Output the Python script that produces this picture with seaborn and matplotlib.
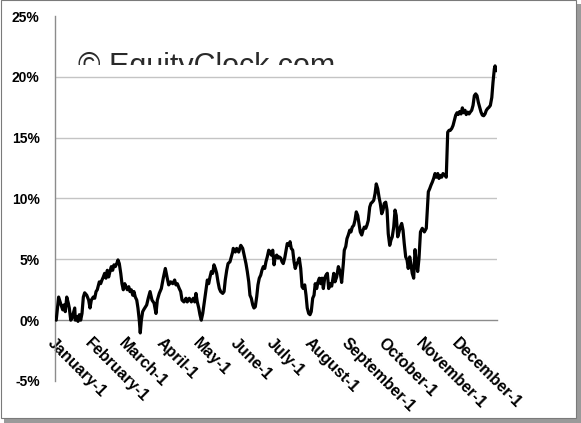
import matplotlib
matplotlib.use("Agg")
import matplotlib.pyplot as plt
import seaborn as sns
import pandas as pd
from matplotlib.patches import Rectangle
from matplotlib.ticker import FuncFormatter

# ---- data (day of year, cumulative seasonal return %) ----
day = [1, 3, 5, 6.4, 7.4, 8.5, 9.7, 11, 11.8, 13, 14, 15.1, 16.3, 16.8, 17.9, 19, 20.1, 21.2, 22.3, 23.4,
       24.5, 26.2, 27.8, 28.9, 30, 31.6, 32.8, 33.9, 34.9, 36.6, 37.7, 38.8, 39.9, 41, 42.1, 43.2, 44.3, 45.4,
       46.5, 47.6, 48.7, 49.8, 51, 52, 53.1, 54.3, 55.3, 56.4, 57.6, 58.6, 59.7, 60.9, 61.9, 63, 64.2, 65.2,
       66.3, 67.5, 68.5, 69.6, 70.4, 71.3, 72.4, 73.5, 75.7, 77.0, 78.5, 80.1, 81.8, 83.4, 84.5, 86.1, 87.8,
       89.4, 91.1, 92.7, 93.9, 95.5, 97.2, 98.8, 99.9, 101.0, 102.6, 103.8, 104.9, 106.5, 108.2, 109.2, 110.9,
       112.6, 114.2, 115.4, 116.4, 117.5, 118.7, 119.7, 120.8, 122.0, 123.0, 124.7, 125.8, 126.9, 128.0, 129.1,
       130.2, 131.3, 132.4, 133.5, 134.6, 135.7, 136.8, 138.5, 139.6, 140.6, 141.8, 142.9, 144.5, 145.6, 146.7,
       147.2, 148.9, 150.0, 151.7, 153.4, 155.0, 156.7, 157.7, 158.8, 160.0, 161.0, 162.1, 163.3, 164.3, 165.4,
       166.6, 167.6, 168.7, 169.9, 170.9, 172.0, 173.2, 174.2, 175.3, 176.5, 177.5, 178.6, 179.8, 180.9, 181.9,
       183.1, 184.2, 185.2, 186.4, 187.5, 188.5, 189.7, 190.8, 191.8, 193.0, 194.1, 195.1, 196.3, 197.4, 198.4,
       199.6, 200.7, 201.7, 202.9, 204.0, 205.0, 206.2, 207.3, 208.3, 209.5, 210.6, 211.6, 212.8, 213.9, 214.9,
       216.1, 217.2, 218.3, 219.4, 220.5, 221.6, 222.7, 223.8, 224.9, 226.0, 227.1, 228.5, 230.2, 231.2, 232.6,
       234.0, 235.4, 236.7, 238.1, 238.9, 240.1, 241.1, 242.2, 243.4, 244.4, 245.5, 246.7, 247.7, 248.8, 250.0,
       251.0, 252.1, 253.3, 254.4, 255.4, 256.6, 257.6, 258.7, 259.9, 260.9, 262.0, 263.2, 264.3, 265.3, 266.5,
       267.6, 268.6, 269.8, 270.9, 271.9, 273.1, 274.2, 275.2, 276.4, 277.5, 278.5, 279.7, 280.8, 281.8, 283.0,
       284.1, 285.1, 286.3, 287.4, 288.4, 289.6, 290.7, 291.7, 292.9, 294.0, 295.0, 296.2, 297.3, 298.3, 299.5,
       300.6, 301.8, 303.3, 305.0, 306.6, 307.8, 308.3, 309.4, 310.5, 311.6, 312.7, 313.8, 314.9, 316.1, 317.1,
       318.2, 319.3, 320.4, 322.1, 323.1, 323.7, 324.3, 325.4, 326.4, 327.6, 328.7, 329.7, 330.9, 332.0, 333.0,
       334.2, 335.3, 336.4, 337.5, 338.6, 339.6, 340.8, 341.9, 342.9, 344.1, 345.2, 346.3, 347.4, 348.5, 349.6,
       350.7, 351.8, 352.9, 354.0, 355.1, 356.2, 357.3, 358.4, 359.5, 360.7, 361.7, 362.8, 363.4, 364.4, 365.0]
pct = [0.0, 1.9, 1.25, 0.85, 1.25, 0.7, 1.9, 1.4, 1.0, 0.0, 0.15, 0.55, 1.0, 0.0, 0.3, -0.1, 0.45, 0.0, 0.55, 1.9,
       2.25, 2.05, 1.65, 1.0, 1.65, 1.9, 1.8, 2.35, 2.5, 3.15, 3.0, 3.3, 3.55, 3.85, 3.45, 4.1, 3.55, 4.0,
       4.4, 4.1, 4.55, 4.4, 4.65, 4.95, 4.65, 3.85, 3.0, 2.5, 3.0, 2.75, 2.5, 2.75, 2.35, 2.5, 2.05, 2.35,
       1.9, 1.65, 1.0, 0.0, -1.05, 0.0, 0.7, 0.9, 1.25, 1.8, 2.35, 1.65, 1.4, 0.55, 1.65, 2.2, 2.6,
       3.45, 4.25, 3.45, 2.9, 3.15, 3.0, 3.3, 2.9, 3.0, 2.6, 2.35, 1.65, 1.5, 1.8, 1.5, 1.8,
       1.5, 1.8, 1.5, 2.2, 1.5, 1.0, 0.45, 0.0, 0.55, 1.25, 2.5, 3.3, 3.0, 3.55, 4.0,
       3.85, 4.55, 4.25, 3.85, 3.15, 2.6, 2.35, 2.2, 2.35, 3.3, 4.1, 4.65, 4.8, 5.2, 5.6,
       5.9, 5.6, 5.9, 5.6, 6.15, 5.9, 5.1, 4.65, 4.0, 3.15, 2.05, 1.8, 1.25, 1.0, 1.1,
       1.95, 2.9, 3.45, 3.7, 4.1, 4.4, 4.25, 4.8, 5.2, 5.75, 5.6, 5.35, 5.75, 4.55, 5.2,
       5.35, 5.1, 5.2, 5.1, 4.8, 4.65, 5.1, 5.75, 6.3, 6.15, 6.45, 5.9, 5.75, 4.8, 4.25,
       4.65, 4.8, 5.1, 4.25, 2.75, 2.6, 2.9, 2.05, 1.0, 0.55, 0.45, 0.7, 1.8, 2.05, 3.0,
       2.6, 3.15, 3.45, 3.0, 3.45, 2.6, 3.45, 3.7, 3.85, 2.6, 3.0, 2.8, 3.85, 3.15, 3.55,
       4.4, 4.0, 3.1, 4.65, 5.75, 6.05, 6.7, 7.0, 7.4, 7.25, 7.65, 7.8, 8.2, 8.9, 8.6,
       7.95, 7.25, 7.0, 7.4, 7.65, 7.55, 7.8, 8.2, 9.3, 9.6, 9.7, 9.85, 10.4, 11.2, 10.8,
       10.1, 9.6, 8.75, 9.05, 9.6, 9.7, 9.05, 7.1, 6.15, 6.6, 6.85, 7.65, 9.05, 8.6, 6.85,
       7.25, 7.65, 7.95, 7.4, 6.3, 5.2, 4.95, 4.25, 5.2, 4.55, 3.85, 3.45, 5.8, 4.8, 4.0,
       5.1, 7.25, 7.55, 7.25, 7.55, 9.7, 10.55, 10.8, 11.1, 11.35, 11.65, 12.05, 11.75, 12.05, 11.65,
       11.9, 11.75, 12.05, 11.9, 11.75, 13.55, 15.45, 15.6, 15.6, 15.75, 16.0, 16.4, 16.85, 17.05, 16.9,
       17.15, 16.95, 17.45, 17.05, 17.25, 16.9, 17.1, 16.95, 17.1, 17.25, 17.65, 18.45, 18.6, 18.45, 17.9,
       17.5, 17.1, 16.85, 16.8, 16.95, 17.25, 17.4, 17.5, 17.65, 18.3, 19.55, 20.65, 20.9, 20.5, 20.65]

month_labels = ["January-1", "February-1", "March-1", "April-1", "May-1", "June-1",
                "July-1", "August-1", "September-1", "October-1", "November-1", "December-1"]
month_start_days = [0, 31, 59, 90, 120, 151, 181, 212, 243, 273, 304, 334]
year_end_day = 365
y_ticks = [-5, 0, 5, 10, 15, 20, 25]
watermark = "\u00a9 EquityClock.com"

# ---- figure ----
sns.set_style("white")
plt.rcParams["font.family"] = ["Liberation Sans", "DejaVu Sans"]

W, H = 581, 423
fig = plt.figure(figsize=(W / 100, H / 100), dpi=100)
fig.patch.set_facecolor("white")

# frame with drop shadow (behind everything)
fig.patches.append(Rectangle((4 / W, 0), (W - 4) / W, 5 / H, transform=fig.transFigure,
                             facecolor="#9a9a9a", edgecolor="none", zorder=-10))
fig.patches.append(Rectangle(((W - 5) / W, 0), 5 / W, (H - 4) / H, transform=fig.transFigure,
                             facecolor="#9a9a9a", edgecolor="none", zorder=-10))
fig.patches.append(Rectangle((0.5 / W, 5 / H), (W - 6) / W, (H - 5.5) / H, transform=fig.transFigure,
                             facecolor="white", edgecolor="#7a7a7a", linewidth=0.8, zorder=-9))

ax = fig.add_axes([55 / W, 1 - 381 / H, (497 - 55) / W, (381 - 16) / H])
ax.set_facecolor("none")
ax.set_zorder(1)

df = pd.DataFrame({"day": day, "pct": pct})
sns.lineplot(data=df, x="day", y="pct", ax=ax, color="black", linewidth=2.3,
             estimator=None, sort=False, legend=False, zorder=3)

ax.set_xlim(0, year_end_day)
ax.set_ylim(min(y_ticks), max(y_ticks))
ax.set_xlabel("")
ax.set_ylabel("")

grey = "#8C8C8C"
ax.set_yticks(y_ticks)
ax.yaxis.set_major_formatter(FuncFormatter(lambda v, p: f"{v:.0f}%"))
ax.yaxis.grid(True, color="#C4C4C4", linewidth=1.0)
ax.set_axisbelow(True)
glines = ax.get_ygridlines()
glines[0].set_visible(False)
glines[-1].set_visible(False)
glines[1].set_visible(False)

ax.set_xticks(month_start_days + [year_end_day])
ax.set_xticklabels(month_labels + [""])

for s in ["top", "right"]:
    ax.spines[s].set_visible(False)
ax.spines["left"].set_color(grey)
ax.spines["bottom"].set_color(grey)
ax.spines["bottom"].set_position(("data", 0))
ax.spines["left"].set_linewidth(1.0)
ax.spines["bottom"].set_linewidth(1.0)

ax.tick_params(axis="y", direction="out", length=5, width=1, color=grey, pad=6,
               labelsize=10, labelcolor="black")
ax.tick_params(axis="x", direction="out", length=5, width=1, color=grey, pad=6,
               labelsize=11.5, labelcolor="black")
for lbl in ax.get_yticklabels():
    lbl.set_fontweight("bold")
for lbl in ax.get_xticklabels():
    lbl.set_fontweight("bold")
    lbl.set_rotation(-45)
    lbl.set_ha("left")
    lbl.set_va("top")
    lbl.set_rotation_mode("anchor")

# ---- watermark (cut off at the bottom) ----
t = fig.text(78 / W, 1 - 75 / H, watermark, fontsize=22, color="#2a2a2a",
             va="baseline", ha="left", zorder=5)
clip = Rectangle((0, 1 - 65 / H), 1, 65 / H, transform=fig.transFigure)
t.set_clip_on(True)
t.set_clip_path(clip)

fig.savefig("out.png", dpi=100)
